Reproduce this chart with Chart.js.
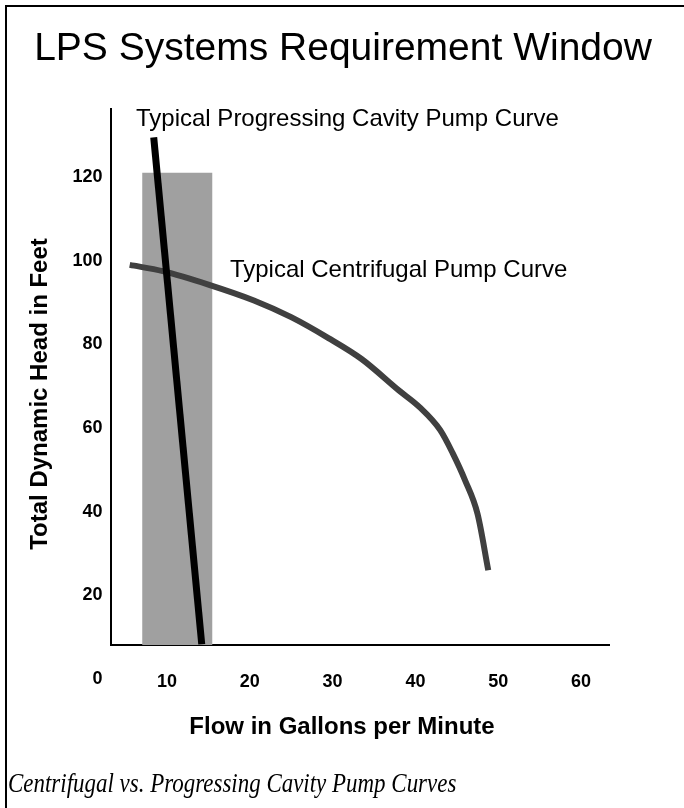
<!DOCTYPE html>
<html>
<head>
<meta charset="utf-8">
<script src="https://cdn.jsdelivr.net/npm/chart.js@4.4.1/dist/chart.umd.min.js"></script>
<style>
    html, body { margin: 0; padding: 0; background: #fff; overflow: hidden; }
    .page { position: relative; width: 684px; height: 808px; }
    .frame { position: absolute; left: 5px; top: 5px; width: 720px; height: 840px;
             border-top: 2px solid #000; border-left: 2px solid #000; }
    .chart-box { position: absolute; left: 0; top: 0; width: 684px; height: 808px; }
    .caption { position: absolute; left: 8px; top: 768px; white-space: nowrap;
               font-family: 'Liberation Serif', 'DejaVu Serif', serif; font-style: italic;
               font-size: 27px; color: #000;
               transform: scaleX(0.85); transform-origin: left top; }
</style>
</head>
<body>
<div class="page">
    <div class="frame"></div>
    <div class="chart-box"><canvas id="pumpChart"></canvas></div>
    <div class="caption">Centrifugal vs. Progressing Cavity Pump Curves</div>
</div>
<script>
// flow (gpm) / head (ft)
const centrifugalFlow = [5.5, 9.5, 15, 20.5, 25, 29.5, 33.5, 38, 40.5, 43, 44.5, 46, 47.5, 48.8];
const centrifugalHead = [99, 97.5, 94.3, 90.5, 86.5, 81.5, 76.5, 69, 65, 59.5, 54, 47.5, 39.5, 26];
const cavityFlow = [8.4, 14.2];
const cavityHead = [129.5, 8.3];
const windowFlow = [7, 15.5];
const windowHead = [121, 121];
const xTicks = [10, 20, 30, 40, 50, 60];
const yTicks = [0, 20, 40, 60, 80, 100, 120];

const SANS = "'Liberation Sans', Arial, sans-serif";

function toPoints(xs, ys) {
    return xs.map((x, i) => ({ x: x, y: ys[i] }));
}

// title, curve labels and axis titles
const textPlugin = {
    id: 'pumpText',
    afterDraw(chart) {
        const ctx = chart.ctx;
        const xs = chart.scales.x, ys = chart.scales.y;
        ctx.save();
        ctx.fillStyle = '#000';
        ctx.textBaseline = 'alphabetic';

        ctx.textAlign = 'center';
        ctx.font = '39px ' + SANS;
        ctx.fillText('LPS Systems Requirement Window', 343, 60);

        ctx.textAlign = 'left';
        ctx.font = '24px ' + SANS;
        ctx.fillText('Typical Progressing Cavity Pump Curve', xs.getPixelForValue(6.26), ys.getPixelForValue(132.1));
        ctx.fillText('Typical Centrifugal Pump Curve', xs.getPixelForValue(17.6), ys.getPixelForValue(96.1));

        ctx.font = 'bold 24px ' + SANS;
        ctx.textAlign = 'center';
        ctx.textBaseline = 'middle';
        ctx.fillText('Flow in Gallons per Minute', 342, 727);
        ctx.translate(40, 394);
        ctx.rotate(-Math.PI / 2);
        ctx.fillText('Total Dynamic Head in Feet', 0, 0);
        ctx.restore();
    }
};

document.addEventListener('DOMContentLoaded', function() {
    const ctx = document.getElementById('pumpChart').getContext('2d');
    new Chart(ctx, {
        type: 'line',
        data: {
            datasets: [{
                label: 'Progressing Cavity',
                data: toPoints(cavityFlow, cavityHead),
                borderColor: '#000',
                borderWidth: 7,
                borderCapStyle: 'butt',
                pointRadius: 0,
                fill: false
            }, {
                label: 'Centrifugal',
                data: toPoints(centrifugalFlow, centrifugalHead),
                borderColor: '#404040',
                borderWidth: 6,
                borderCapStyle: 'butt',
                borderJoinStyle: 'round',
                cubicInterpolationMode: 'monotone',
                pointRadius: 0,
                fill: false
            }, {
                label: 'Requirement Window',
                data: toPoints(windowFlow, windowHead),
                borderWidth: 0,
                borderColor: 'rgba(0,0,0,0)',
                backgroundColor: '#a0a0a0',
                pointRadius: 0,
                fill: 'start'
            }]
        },
        options: {
            responsive: true,
            maintainAspectRatio: false,
            animation: false,
            layout: { padding: { left: 20, right: 75, top: 109, bottom: 103 } },
            plugins: {
                legend: { display: false },
                tooltip: { enabled: false },
                title: { display: false }
            },
            scales: {
                x: {
                    type: 'linear',
                    min: 3.18,
                    max: 63.38,
                    grid: { display: false, drawTicks: false },
                    border: { display: true, color: '#000', width: 2 },
                    afterBuildTicks: s => { s.ticks = xTicks.map(v => ({ value: v })); },
                    afterFit: s => { s.height = 60; },
                    ticks: {
                        autoSkip: false,
                        maxRotation: 0,
                        padding: 26,
                        color: '#000',
                        font: { family: SANS, size: 18, weight: 'bold' }
                    }
                },
                y: {
                    type: 'linear',
                    min: 8.13,
                    max: 136.27,
                    grid: { display: false, drawTicks: false },
                    border: { display: true, color: '#000', width: 2 },
                    afterBuildTicks: s => { s.ticks = yTicks.map(v => ({ value: v })); },
                    afterFit: s => { s.width = 90.5; },
                    ticks: {
                        autoSkip: false,
                        padding: 8,
                        color: '#000',
                        font: { family: SANS, size: 18, weight: 'bold' }
                    }
                }
            }
        },
        plugins: [textPlugin]
    });
});
</script>
</body>
</html>
